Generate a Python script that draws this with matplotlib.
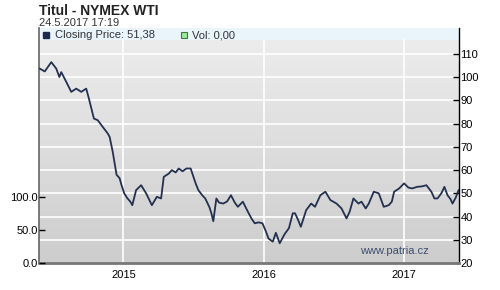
import numpy as np
import pandas as pd
import matplotlib
matplotlib.use('Agg')
import matplotlib.pyplot as plt
import matplotlib.dates as mdates
from matplotlib.patches import Rectangle

plt.rcParams['font.family'] = ['Liberation Sans', 'DejaVu Sans']
plt.rcParams['font.size'] = 8

# WTI closing price
dates = ['2014-05-28', '2014-06-10', '2014-06-27', '2014-07-10', '2014-07-18', '2014-07-23',
         '2014-08-05', '2014-08-18', '2014-08-31', '2014-09-13', '2014-09-26', '2014-10-03',
         '2014-10-16', '2014-10-26', '2014-11-08', '2014-11-21', '2014-11-26', '2014-12-04',
         '2014-12-14', '2014-12-22', '2014-12-27', '2015-01-03', '2015-01-11', '2015-01-19',
         '2015-01-24', '2015-02-03', '2015-02-16', '2015-03-01', '2015-03-16', '2015-03-29',
         '2015-04-09', '2015-04-16', '2015-04-29', '2015-05-07', '2015-05-17', '2015-05-25',
         '2015-06-04', '2015-06-14', '2015-06-25', '2015-07-08', '2015-07-15', '2015-07-26',
         '2015-08-02', '2015-08-13', '2015-08-18', '2015-08-23', '2015-08-31', '2015-09-07',
         '2015-09-18', '2015-09-28', '2015-10-08', '2015-10-18', '2015-10-26', '2015-11-08',
         '2015-11-21', '2015-12-01', '2015-12-09', '2015-12-19', '2015-12-29', '2016-01-06',
         '2016-01-14', '2016-01-25', '2016-02-02', '2016-02-12', '2016-02-25', '2016-03-07',
         '2016-03-17', '2016-03-23', '2016-03-31', '2016-04-07', '2016-04-21', '2016-05-04',
         '2016-05-14', '2016-05-28', '2016-06-10', '2016-06-23', '2016-07-09', '2016-07-22',
         '2016-08-04', '2016-08-12', '2016-08-22', '2016-09-04', '2016-09-12', '2016-09-23',
         '2016-10-01', '2016-10-14', '2016-10-27', '2016-11-09', '2016-11-22', '2016-11-30',
         '2016-12-06', '2016-12-19', '2017-01-01', '2017-01-12', '2017-01-22', '2017-02-04',
         '2017-02-17', '2017-02-28', '2017-03-13', '2017-03-21', '2017-03-29', '2017-04-08',
         '2017-04-16', '2017-04-24', '2017-05-02', '2017-05-07', '2017-05-15', '2017-05-23']
prices = [103.7, 102.5, 106.5, 103.7, 100.1, 102.2,
          98.0, 93.7, 95.1, 93.7, 95.1, 90.8,
          82.2, 81.5, 78.6, 75.8, 74.3, 67.9,
          58.0, 56.5, 53.5, 50.0, 47.9, 46.4,
          44.9, 51.4, 53.5, 50.0, 44.9, 48.5,
          47.8, 57.1, 58.5, 60.0, 59.0, 60.7,
          59.5, 60.7, 60.7, 54.3, 51.4, 49.0,
          47.8, 44.0, 41.4, 38.0, 47.8, 46.0,
          45.6, 46.5, 49.2, 46.0, 44.2, 46.4,
          42.1, 39.0, 37.1, 37.5, 37.1, 34.0,
          30.5, 29.2, 33.0, 28.5, 32.5, 35.0,
          41.4, 41.4, 38.5, 35.6, 42.8, 45.6,
          44.2, 49.2, 50.7, 47.1, 45.6, 43.5,
          39.2, 42.0, 47.8, 45.6, 46.4, 43.5,
          45.6, 50.7, 50.0, 44.2, 44.9, 46.4,
          50.7, 52.1, 54.3, 52.5, 52.1, 52.8,
          53.0, 53.5, 50.7, 47.8, 47.8, 50.0,
          52.8, 49.2, 47.5, 45.6, 48.0, 51.38]

price_ticks = [20, 30, 40, 50, 60, 70, 80, 90, 100, 110]
vol_ticks = [0, 50, 100]

x = pd.to_datetime(dates)

fig = plt.figure(figsize=(5, 2.9), dpi=100)
W, H = 500, 290
ax = fig.add_axes([39 / W, (H - 263) / H, (459 - 39) / W, (263 - 28) / H])

# volume scale on the left (twin made first, then price ticks forced right)
ax2 = ax.twinx()

ax.set_xlim(pd.Timestamp('2014-05-26'), pd.Timestamp('2017-05-24'))
ax.set_ylim(20, 121.2)
ax.yaxis.tick_right()
ax.set_yticks(price_ticks)
ax.set_yticklabels([str(t) for t in price_ticks])
ax.tick_params(axis='y', direction='in', length=4, width=1, pad=1, colors='black')
ax.tick_params(axis='x', length=0, pad=5)

ax.xaxis.set_major_locator(mdates.YearLocator())
ax.xaxis.set_major_formatter(mdates.DateFormatter('%Y'))

# gradient background below the legend band
band = (263 - 40) / 235
grad = np.linspace(0, 1, 256).reshape(-1, 1)
ax.imshow(grad, extent=[0, 1, 0, band], transform=ax.transAxes, aspect='auto',
          cmap=matplotlib.colors.LinearSegmentedColormap.from_list('g', ['#cdcdcd', '#ececec']),
          origin='lower', zorder=0)
ax.add_patch(Rectangle((0, band), 1, 1 - band, transform=ax.transAxes,
                       facecolor='#eaf4fb', edgecolor='none', zorder=0.5))

# grid lines (white), stopped at the legend band
for t in price_ticks[1:]:
    ax.axhline(t, color='white', linewidth=1.2, zorder=1)
for yr in ['2015', '2016', '2017']:
    ax.axvline(pd.Timestamp(yr + '-01-01'), ymin=0, ymax=band, color='white', linewidth=1.2, zorder=1)

ax.plot(x, prices, color='#23304f', linewidth=1.3, zorder=3)

ax.spines['top'].set_visible(False)
ax.spines['bottom'].set_color('#777777')
ax.spines['bottom'].set_linewidth(2)
ax.spines['left'].set_color('#666666')
ax.spines['left'].set_linewidth(1.2)
ax.spines['right'].set_color('black')
ax.spines['right'].set_linewidth(1)

ax2.yaxis.tick_left()
ax2.set_ylim(0, 356)
ax2.set_yticks(vol_ticks)
ax2.set_yticklabels(['%.1f' % v for v in vol_ticks])
ax2.tick_params(axis='y', direction='in', length=4, width=1, pad=1, colors='black')
for s in ax2.spines.values():
    s.set_visible(False)

ax.text(394, H - 251, 'www.patria.cz', transform=None, fontsize=8, color='#3d4d70',
        ha='center', va='center')

# header texts
fig.text(39 / W, 1 - 11 / H, 'Titul - NYMEX WTI', fontsize=10, fontweight='bold',
         ha='left', va='center', color='#222222')
fig.text(39 / W, 1 - 23 / H, '24.5.2017 17:19', fontsize=8, ha='left', va='center', color='#333333')

# legend in the band
fig.patches.append(Rectangle((43 / W, 1 - 38 / H), 6 / W, 6 / H, transform=fig.transFigure,
                             facecolor='#1d2a4d', edgecolor='#1d2a4d', zorder=5))
fig.text(55 / W, 1 - 35 / H, 'Closing Price: 51,38', fontsize=8, ha='left', va='center', color='#333333')
fig.patches.append(Rectangle((181 / W, 1 - 38 / H), 6 / W, 6 / H, transform=fig.transFigure,
                             facecolor='#9ee89a', edgecolor='#3a7a3a', linewidth=0.8, zorder=5))
fig.text(192 / W, 1 - 35 / H, 'Vol: 0,00', fontsize=8, ha='left', va='center', color='#333333')

fig.savefig('out.png', dpi=100)
